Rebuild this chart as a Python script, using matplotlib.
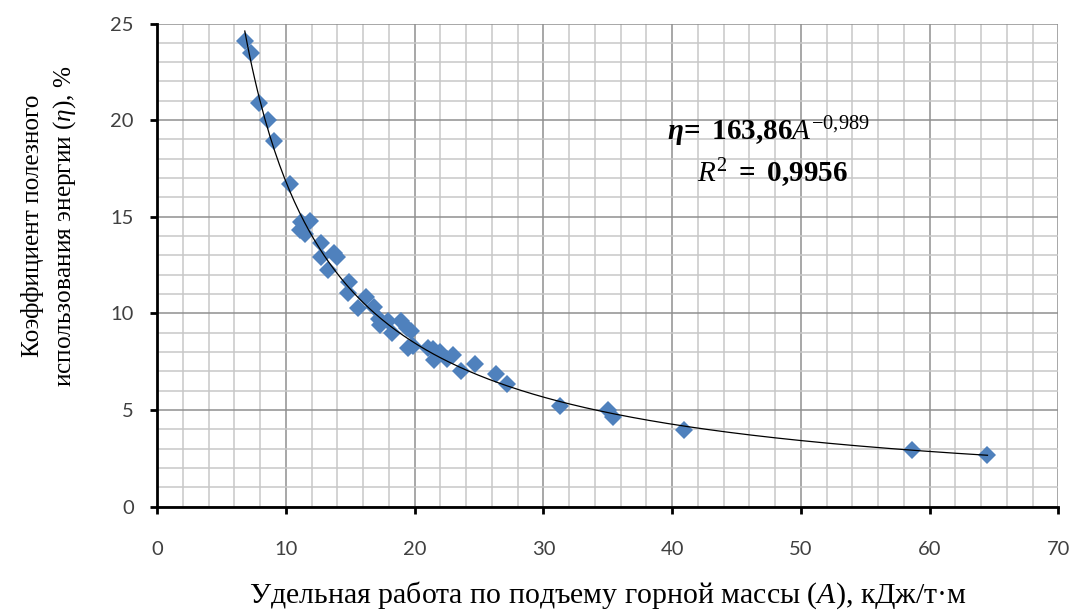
import numpy as np
import matplotlib
matplotlib.use('Agg')
import matplotlib.pyplot as plt
from matplotlib.ticker import MultipleLocator

plt.rcParams['mathtext.fontset'] = 'custom'
plt.rcParams['mathtext.rm'] = 'Liberation Serif'
plt.rcParams['mathtext.it'] = 'Liberation Serif:italic'
plt.rcParams['mathtext.bf'] = 'Liberation Serif:bold'
plt.rcParams['mathtext.bfit'] = 'Liberation Serif:italic:bold'

# measured points: specific work A (kJ/t*m) vs efficiency eta (%)
work_a = [6.8, 7.3, 7.9, 8.6, 9.1, 10.3, 11.1, 11.2, 11.5, 11.9,
          12.7, 12.7, 13.3, 13.7, 14.0, 14.9, 14.8, 16.2, 15.6, 16.8,
          17.2, 17.3, 17.9, 18.2, 18.9, 19.4, 19.7, 19.5, 19.9, 21.0,
          21.4, 21.5, 22.0, 22.5, 23.0, 23.6, 24.7, 26.3, 27.2, 31.3,
          35.0, 35.4, 40.9, 58.6, 64.5]
eta = [24.1, 23.5, 20.9, 20.0, 18.9, 16.7, 14.3, 14.75, 14.1, 14.8,
       13.65, 12.9, 12.25, 13.1, 12.9, 11.65, 11.05, 10.85, 10.3, 10.35,
       9.7, 9.4, 9.6, 9.0, 9.6, 9.25, 9.1, 8.2, 8.3, 8.2,
       8.15, 7.6, 8.0, 7.65, 7.85, 7.0, 7.4, 6.85, 6.35, 5.2,
       5.0, 4.65, 3.95, 2.95, 2.65]

# power trendline shown on the chart: eta = 163.86 * A^-0.989
coef_a = 163.86
coef_b = -0.989

fig = plt.figure(figsize=(10.72, 6.14), dpi=100)
ax = fig.add_axes([0.1467, 0.1748, 0.8405, 0.7869])

ax.xaxis.set_major_locator(MultipleLocator(10))
ax.xaxis.set_minor_locator(MultipleLocator(2))
ax.yaxis.set_major_locator(MultipleLocator(5))
ax.yaxis.set_minor_locator(MultipleLocator(1))
ax.grid(which='minor', color='#c8c8c8', linewidth=1.1)
ax.grid(which='major', color='#8f8f8f', linewidth=1.1)
ax.set_axisbelow(True)

xs = np.linspace(min(work_a), max(work_a), 300)
ax.plot(xs, coef_a * xs ** coef_b, color='black', linewidth=0.9, zorder=3)
ax.plot(work_a, eta, linestyle='none', marker='D', markersize=9.3,
        color='#4F81BD', markeredgewidth=0, zorder=2)

ax.set_xlim(0, 70)
ax.set_ylim(0, 25)
for s in ['top', 'right']:
    ax.spines[s].set_visible(False)
for s in ['left', 'bottom']:
    ax.spines[s].set_linewidth(2)
    ax.spines[s].set_zorder(4)
ax.tick_params(which='major', direction='out', length=5, width=2,
               labelsize=14.5, labelcolor='#404040')
ax.tick_params(which='minor', length=0)
ax.tick_params(axis='x', pad=20)
ax.tick_params(axis='y', pad=12)
for lab in ax.get_xticklabels() + ax.get_yticklabels():
    lab.set_family('Lato')

fig.text(0.567, 0.019,
         r'Удельная работа по подъему горной массы ($\mathit{A}$), кДж/т·м',
         ha='center', va='baseline', family='Liberation Serif', fontsize=21.5)
fig.text(0.046, 0.632,
         'Коэффициент полезного\n' + r'использования энергии ($\mathit{\eta}$), %',
         ha='center', va='center', rotation=90, multialignment='center',
         family='Liberation Serif', fontsize=18.2, linespacing=1.35)

ax.text(0.566, 0.759,
        r'$\boldsymbol{\eta}\!\mathbf{=\ 163{,}86}\mathit{A}^{\mathrm{-0{,}989}}$',
        transform=ax.transAxes, fontsize=21, ha='left', va='baseline')
ax.text(0.599, 0.672,
        r'$\mathit{R}^{\mathrm{2}}\mathbf{\ =\ 0{,}9956}$',
        transform=ax.transAxes, fontsize=21, ha='left', va='baseline')

fig.savefig('out.png', dpi=100)
